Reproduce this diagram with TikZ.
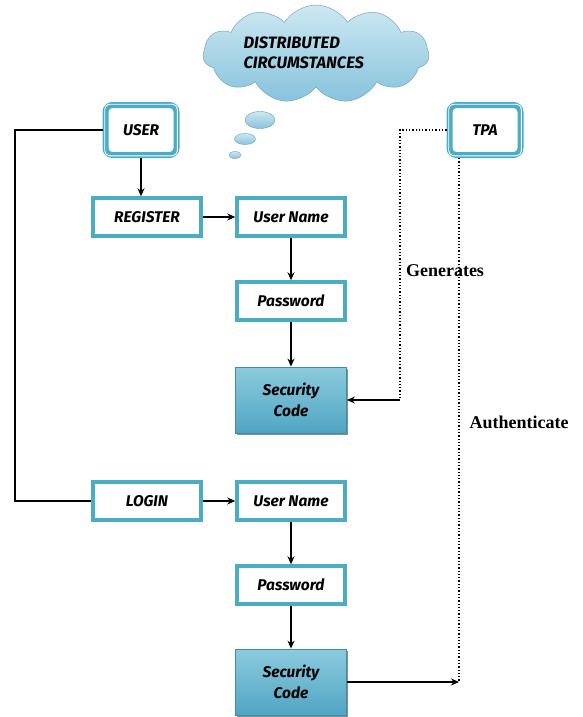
\documentclass[tikz,border=0pt]{standalone}
\usepackage{fontspec}
\newfontfamily\hand{Fira Sans}
\newfontfamily\lblfont{Liberation Serif}
\usetikzlibrary{arrows.meta,shapes.symbols,shapes.geometric,shadows,calc}
\definecolor{teal1}{RGB}{75,172,198}
\definecolor{tealdark}{RGB}{60,140,170}
\definecolor{cloudtop}{RGB}{205,232,242}
\definecolor{cloudbot}{RGB}{135,195,220}
\definecolor{sctop}{RGB}{140,203,222}
\definecolor{scbot}{RGB}{80,165,195}
\tikzset{
  txt/.style={font=\hand\bfseries\itshape\fontsize{15.5}{21}\selectfont, text=black},
  plainbox/.style={txt, draw=teal1, line width=3.5pt, fill=white, minimum width=108pt, minimum height=38pt, inner sep=0pt},
  actor/.style={txt, draw=teal1, line width=6pt, fill=white, rounded corners=7pt, minimum width=71pt, minimum height=50pt, inner sep=0pt},
  secbox/.style={txt, draw=tealdark, line width=0.8pt, top color=sctop, bottom color=scbot, minimum width=111pt, minimum height=66pt, align=center, inner sep=0pt,
     drop shadow={shadow xshift=1.5pt, shadow yshift=-2pt, fill=black!55, opacity=0.8}},
  conn/.style={draw=black, line width=1.2pt},
  arr/.style={conn, -{Stealth[length=8pt,width=7pt]}},
  dots/.style={draw=black, line width=1.3pt, dotted},
  bubble/.style={ellipse, draw=cloudbot!80!black, line width=0.4pt, top color=cloudtop, bottom color=cloudbot, inner sep=0pt},
  lbl/.style={font=\lblfont\bfseries\fontsize{18}{20}\selectfont, text=black}
}
\begin{document}
\begin{tikzpicture}[x=1pt,y=-1pt]
\useasboundingbox (0,0) rectangle (582,717);
% cloud
\node[cloud, cloud puffs=11, cloud puff arc=115, aspect=2.4, minimum width=226pt, minimum height=98pt, draw=cloudbot!85!black, line width=0.5pt, top color=cloudtop, bottom color=cloudbot] (cloud) at (316,54) {};
\node[txt, font=\hand\bfseries\itshape\fontsize{16.5}{20}\selectfont, align=left, anchor=west] (cloudtxt) at (240,53) {DISTRIBUTED\\CIRCUMSTANCES};
\node[bubble, minimum width=30pt, minimum height=17pt] (b1) at (260,120) {};
\node[bubble, minimum width=21pt, minimum height=11pt] (b2) at (245,139) {};
\node[bubble, minimum width=12pt, minimum height=7pt] (b3) at (235,155) {};
% actors
\node[actor] (user) at (141,130) {USER};
\draw[white, line width=0.9pt, rounded corners=5pt] ($(user.south west)+(2.2,-2.2)$) rectangle ($(user.north east)+(-2.2,2.2)$);
\node[actor] (tpa) at (485,130) {TPA};
\draw[white, line width=0.9pt, rounded corners=5pt] ($(tpa.south west)+(2.2,-2.2)$) rectangle ($(tpa.north east)+(-2.2,2.2)$);
% register column
\node[plainbox] (register) at (147,217) {REGISTER};
\node[plainbox] (un1) at (291,217) {User Name};
\node[plainbox] (pw1) at (291,301) {Password};
\node[secbox] (sc1) at (291,400) {Security\\Code};
% login column
\node[plainbox] (login) at (147,501) {LOGIN};
\node[plainbox] (un2) at (291,501) {User Name};
\node[plainbox] (pw2) at (291,585) {Password};
\node[secbox] (sc2) at (291,682) {Security\\Code};
% connectors
\draw[arr] (user.south) -- (register.north -| user.south);
\draw[arr] (register.east) -- (un1.west);
\draw[arr] (un1.south) -- (pw1.north);
\draw[arr] (pw1.south) -- (sc1.north);
\coordinate (lft) at (15,501);
\draw[conn] (user.west) -| (lft) -- (login.west);
\draw[arr] (login.east) -- (un2.west);
\draw[arr] (un2.south) -- (pw2.north);
\draw[arr] (pw2.south) -- (sc2.north);
\coordinate (gen) at (400,400);
\draw[dots] (tpa.west) -| (gen);
\draw[arr] (gen) -- (sc1.east);
\coordinate (auth) at (459,682);
\draw[dots] (tpa.south -| auth) -- (auth);
\draw[arr] (sc2.east) -- (auth);
% labels
\node[lbl] (generates) at (445,271) {Generates};
\node[lbl] (authenticate) at (519,422) {Authenticate};
\end{tikzpicture}
\end{document}
